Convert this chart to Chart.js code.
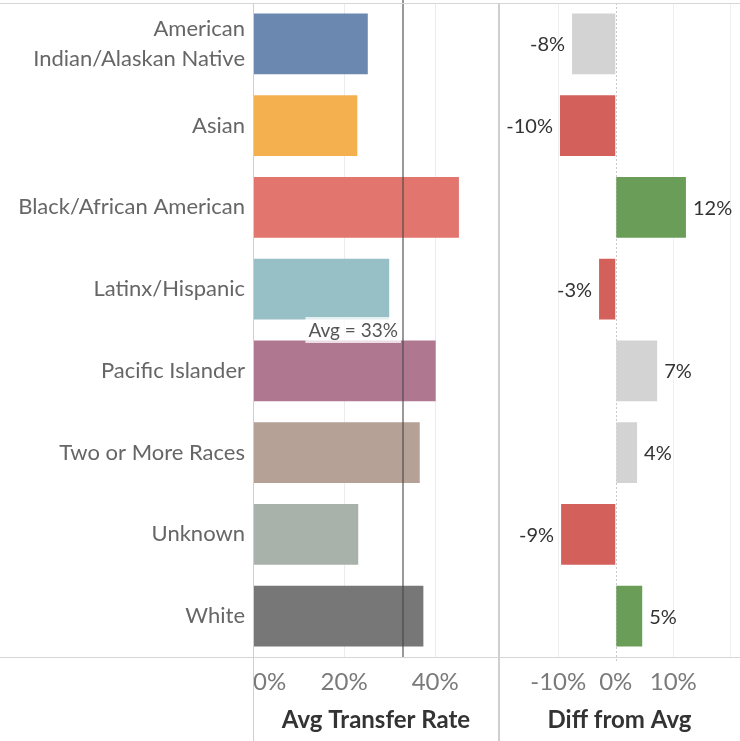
<!DOCTYPE html>
<html><head><meta charset="utf-8">
<script src="https://cdn.jsdelivr.net/npm/chart.js@4.4.1/dist/chart.umd.min.js"></script>
<style>
html,body{margin:0;padding:0;background:#fff;overflow:hidden}
#wrap{position:relative;width:740px;height:741px}
canvas{position:absolute;top:0}
</style></head><body>
<div id="wrap">
<canvas id="c1" width="499" height="741" style="left:0"></canvas>
<canvas id="c2" width="241" height="741" style="left:499px"></canvas>
</div>
<script>
// ---- data ----
const categories = [["American","Indian/Alaskan Native"],"Asian","Black/African American","Latinx/Hispanic","Pacific Islander","Two or More Races","Unknown","White"];
const transferRates = [25.2, 22.9, 45.2, 29.9, 40.1, 36.6, 23.1, 37.4];
const avgRate = 33;
const diffFromAvg = [-7.6, -9.7, 12.2, -2.9, 7.2, 3.7, -9.5, 4.6];
const diffGroup = ["neutral","below","above","below","neutral","neutral","below","above"];
const rateTicks = [0, 20, 40];
const diffTicks = [-10, 0, 10];

// ---- styles ----
const rateColors = ["#6b88b0","#f4b04f","#e3756f","#97c0c6","#b07890","#b5a195","#a9b2aa","#777777"];
const groupColors = {neutral:"#d3d3d3", below:"#d3605b", above:"#6a9e58"};
const FONT = "Lato";
const frameColor = "#d6d6d6";

function frameLines(chart, opts){
  const {ctx, chartArea:a, width, height} = chart;
  ctx.save();
  ctx.strokeStyle = frameColor; ctx.lineWidth = 1;
  ctx.beginPath();
  ctx.moveTo(0, Math.round(a.bottom)+0.5); ctx.lineTo(width, Math.round(a.bottom)+0.5);
  ctx.moveTo(0, 3.5); ctx.lineTo(width, 3.5);
  ctx.stroke();
  ctx.beginPath();
  ctx.strokeStyle = "#cfcfcf";
  if (opts.leftLine) { ctx.moveTo(Math.round(a.left)+0.5, 3); ctx.lineTo(Math.round(a.left)+0.5, height); }
  if (opts.rightLine) { ctx.moveTo(width-0.5, 3); ctx.lineTo(width-0.5, height); }
  if (opts.startLine) { ctx.moveTo(0.5, 3); ctx.lineTo(0.5, height); }
  ctx.stroke();
  ctx.restore();
}

const avgPlugin = {
  id:'avgPlugin',
  afterDatasetsDraw(chart){
    const {ctx, chartArea:a, scales:{x,y}} = chart;
    const px = Math.round(x.getPixelForValue(avgRate));
    ctx.save();
    ctx.strokeStyle = "rgba(70,70,70,0.55)"; ctx.lineWidth = 2;
    ctx.beginPath(); ctx.moveTo(px, 0); ctx.lineTo(px, a.bottom); ctx.stroke();
    const ly = (y.getPixelForTick(3) + y.getPixelForTick(4)) / 2;
    ctx.font = "19px " + FONT;
    const txt = "Avg = " + avgRate + "%";
    const w = ctx.measureText(txt).width;
    ctx.fillStyle = "rgba(255,255,255,0.75)";
    ctx.fillRect(px - 5 - w - 3, ly - 13, w + 6, 26);
    ctx.fillStyle = "#555";
    ctx.textAlign = "right"; ctx.textBaseline = "middle";
    ctx.fillText(txt, px - 5, ly + 1);
    ctx.restore();
  },
  afterDraw(chart){ frameLines(chart, {leftLine:true, rightLine:true}); }
};

const diffPlugin = {
  id:'diffPlugin',
  beforeDatasetsDraw(chart){
    const {ctx, chartArea:a, scales:{x}} = chart;
    const px = Math.round(x.getPixelForValue(0)) + 0.5;
    ctx.save();
    ctx.strokeStyle = "#c8c8c8"; ctx.lineWidth = 1; ctx.setLineDash([2,2]);
    ctx.beginPath(); ctx.moveTo(px, a.top); ctx.lineTo(px, a.bottom + 6); ctx.stroke();
    ctx.restore();
  },
  afterDatasetsDraw(chart){
    const {ctx} = chart;
    const meta = chart.getDatasetMeta(0);
    ctx.save();
    ctx.font = "20px " + FONT; ctx.fillStyle = "#333"; ctx.textBaseline = "middle";
    meta.data.forEach((bar, i) => {
      const v = diffFromAvg[i];
      const label = Math.round(v) + "%";
      if (v < 0) { ctx.textAlign = "right"; ctx.fillText(label, bar.x - 7, bar.y + 1); }
      else { ctx.textAlign = "left"; ctx.fillText(label, bar.x + 7, bar.y + 1); }
    });
    ctx.restore();
  },
  afterDraw(chart){ frameLines(chart, {startLine:true}); }
};

const tickFont = {family: FONT, size: 24};
const titleFont = {family: FONT, size: 24, weight: 'bold'};
const noPad = s => { s.paddingTop = 0; s.paddingBottom = 0; };

new Chart(document.getElementById('c1'), {
  type:'bar',
  data:{labels:categories, datasets:[{data:transferRates, backgroundColor:rateColors, barPercentage:0.745, categoryPercentage:1}]},
  options:{
    indexAxis:'y', responsive:false, animation:false,
    layout:{padding:{top:3, right:0, left:0, bottom:0}},
    plugins:{legend:{display:false}, tooltip:{enabled:false}},
    scales:{
      x:{
        min:0, max:54,
        afterBuildTicks:s=>{ s.ticks = rateTicks.concat([54]).map(v=>({value:v})); },
        afterFit:s=>{ s.height = 84; s.paddingLeft = 0; s.paddingRight = 0; },
        grid:{drawTicks:false, color:c=> (c.tick && rateTicks.includes(c.tick.value) && c.tick.value!==0) ? '#ececec' : 'rgba(0,0,0,0)'},
        border:{display:false},
        ticks:{align:'inner', padding:11, maxRotation:0, minRotation:0, autoSkip:false, color:'#7a7a7a', font:tickFont, callback:v=> rateTicks.includes(v) ? v + '%' : ''},
        title:{display:true, text:'Avg Transfer Rate', color:'#333', font:titleFont, padding:{top:0, bottom:6}}
      },
      y:{
        afterFit:s=>{ s.width = 253; noPad(s); },
        grid:{display:false, drawTicks:false}, border:{display:false},
        ticks:{padding:8, color:'#666', font:{family:FONT, size:22, lineHeight:1.4}}
      }
    }
  },
  plugins:[avgPlugin]
});

new Chart(document.getElementById('c2'), {
  type:'bar',
  data:{labels:categories, datasets:[{data:diffFromAvg, backgroundColor:diffGroup.map(g=>groupColors[g]), barPercentage:0.745, categoryPercentage:1}]},
  options:{
    indexAxis:'y', responsive:false, animation:false,
    layout:{padding:{top:3, right:0, left:0, bottom:0}},
    plugins:{legend:{display:false}, tooltip:{enabled:false}},
    scales:{
      x:{
        min:-20.3, max:21.6,
        afterBuildTicks:s=>{ s.ticks = [-20,-10,0,10,20].map(v=>({value:v})); },
        afterFit:s=>{ s.height = 84; s.paddingLeft = 0; s.paddingRight = 0; },
        grid:{drawTicks:false, color:c=> (c.tick && [-10,10,20].includes(c.tick.value)) ? '#efefef' : 'rgba(0,0,0,0)'},
        border:{display:false},
        ticks:{padding:11, maxRotation:0, minRotation:0, autoSkip:false, color:'#7a7a7a', font:tickFont, callback:v=> diffTicks.includes(v) ? v + '%' : ''},
        title:{display:true, text:'Diff from Avg', color:'#333', font:titleFont, padding:{top:0, bottom:6}}
      },
      y:{display:false, afterFit:noPad}
    }
  },
  plugins:[diffPlugin]
});
</script>
</body></html>
